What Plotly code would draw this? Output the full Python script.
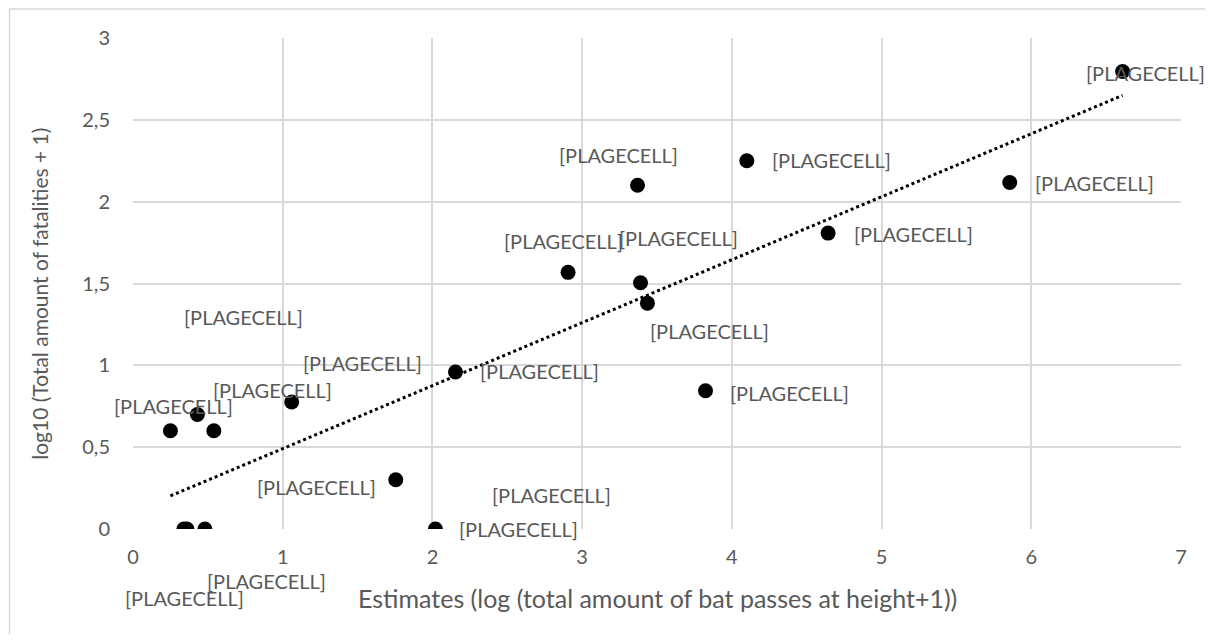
import numpy as np
import plotly.graph_objects as go

# Data points (estimates vs log10 fatalities)
x_vals = [0.25, 0.43, 0.54, 1.06, 1.755, 0.34, 0.36, 0.48, 2.02, 3.37, 4.10,
          2.906, 3.39, 3.436, 2.154, 6.61, 5.856, 4.643, 3.824]
y_vals = [0.60, 0.70, 0.60, 0.776, 0.301, 0.0, 0.0, 0.0, 0.0, 2.10, 2.25,
          1.568, 1.505, 1.38, 0.959, 2.795, 2.117, 1.808, 0.845]

# Data labels (text and their anchor positions in data units)
label_text = ["[PLAGECELL]"] * 19
label_x = [6.76, 4.665, 6.42, 5.21, 3.24, 2.873, 3.641, 3.85, 4.387, 2.717,
           0.741, 1.53, 0.935, 0.272, 1.225, 2.795, 2.578, 0.891, 0.345]
label_y = [2.786, 2.256, 2.117, 1.804, 2.287, 1.757, 1.778, 1.207, 0.834, 0.963,
           1.293, 1.014, 0.851, 0.749, 0.257, 0.21, 0.0, -0.32, -0.42]

x_ticks = [0, 1, 2, 3, 4, 5, 6, 7]
y_ticks = [0, 0.5, 1, 1.5, 2, 2.5, 3]
Y_MAX = 3

x_title = "Estimates (log (total amount of bat passes at height+1))"
y_title = "log10 (Total amount of fatalities + 1)"

FONT = "Lato"
GREY = "#595959"
GRID = "#d9d9d9"

# Linear trendline (least squares)
slope, intercept = np.polyfit(x_vals, y_vals, 1)
tx = [min(x_vals), max(x_vals)]
ty = [slope * v + intercept for v in tx]

fig = go.Figure()
fig.add_trace(go.Scatter(x=tx, y=ty, mode="lines",
                         line=dict(color="black", width=3, dash="dot"),
                         hoverinfo="skip", showlegend=False))
fig.add_trace(go.Scatter(x=x_vals, y=y_vals, mode="markers",
                         marker=dict(color="black", size=15),
                         showlegend=False))

# labels: y placed in paper units so those below the axis are not hidden
for t, lx, ly in zip(label_text, label_x, label_y):
    fig.add_annotation(x=lx, y=ly / Y_MAX, xref="x", yref="paper", text=t,
                       showarrow=False,
                       font=dict(family=FONT, size=20, color=GREY),
                       xanchor="center", yanchor="middle")

# Axis titles
fig.add_annotation(x=0.5, y=-0.14, xref="paper", yref="paper", text=x_title,
                   showarrow=False, font=dict(family=FONT, size=25, color=GREY),
                   xanchor="center", yanchor="middle")
fig.add_annotation(x=-0.0893, y=0.48, xref="paper", yref="paper", text=y_title,
                   showarrow=False, textangle=-90,
                   font=dict(family=FONT, size=21, color=GREY),
                   xanchor="center", yanchor="middle")

# Outer chart border
fig.add_shape(type="rect", xref="paper", yref="paper",
              x0=-0.1178, x1=1.06, y0=-0.3, y1=1.059,
              line=dict(color=GRID, width=1.5), layer="below")

fig.update_layout(
    width=1197, height=626,
    margin=dict(l=125, r=24, t=30, b=105),
    paper_bgcolor="white", plot_bgcolor="white",
    separators=",.",
    font=dict(family=FONT, size=20, color=GREY),
    showlegend=False,
)
fig.update_xaxes(range=[0, 7], tickvals=x_ticks, showgrid=True, gridcolor=GRID,
                 gridwidth=1.5, zeroline=False, showline=False,
                 ticks="", ticklabelstandoff=14,
                 tickfont=dict(family=FONT, size=20, color=GREY))
fig.update_yaxes(range=[0, Y_MAX], tickvals=y_ticks, showgrid=True, gridcolor=GRID,
                 gridwidth=1.5, zeroline=False, showline=False,
                 ticks="", ticklabelstandoff=22,
                 tickfont=dict(family=FONT, size=20, color=GREY))

fig.write_html("out.html")
